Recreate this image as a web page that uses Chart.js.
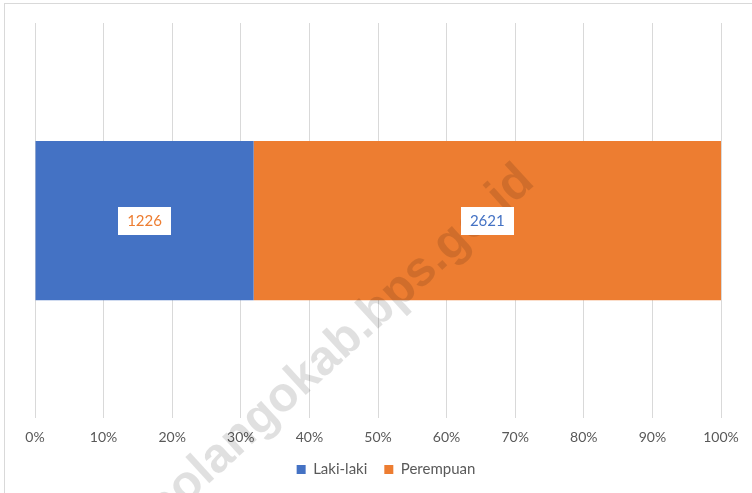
<!DOCTYPE html>
<html>
<head>
<meta charset="utf-8">
<script src="https://cdn.jsdelivr.net/npm/chart.js@4/dist/chart.umd.min.js"></script>
<style>
  html, body { margin: 0; padding: 0; background: #fff; overflow: hidden; }
  #wrap { position: relative; width: 752px; height: 493px; }
  #frame { position: absolute; left: 4px; top: 3px; width: 800px; height: 600px; border: 1px solid #d9d9d9; box-sizing: border-box; }
  canvas { position: absolute; left: 0; top: 0; }
</style>
</head>
<body>
<div id="wrap">
  <div id="frame"></div>
  <canvas id="c" width="752" height="493"></canvas>
</div>
<script>
const categories = [""];
const seriesNames = ["Laki-laki", "Perempuan"];
const lakiLaki = [1226];
const perempuan = [2621];
const tickValues = [0, 10, 20, 30, 40, 50, 60, 70, 80, 90, 100];
const watermark = "bonebolangokab.bps.go.id";

const BLUE = "#4472C4";
const ORANGE = "#ED7D31";
const FONT = "Lato, 'Open Sans', sans-serif";

const totals = lakiLaki.map((v, i) => v + perempuan[i]);
const pct = (arr) => arr.map((v, i) => v / totals[i] * 100);

const watermarkPlugin = {
  id: "watermark",
  afterDatasetsDraw(chart) {
    const ctx = chart.ctx;
    ctx.save();
    ctx.translate(536, 184);
    ctx.rotate(-42.5 * Math.PI / 180);
    ctx.font = "bold 49px 'Liberation Sans', Arial, sans-serif";
    ctx.fillStyle = "rgba(0,0,0,0.12)";
    ctx.textAlign = "right";
    ctx.textBaseline = "alphabetic";
    ctx.fillText(watermark, 0, 0);
    ctx.restore();
  }
};

const labelPlugin = {
  id: "boxLabels",
  afterDatasetsDraw(chart) {
    const ctx = chart.ctx;
    const raws = [lakiLaki, perempuan];
    const txtColors = [ORANGE, BLUE];
    chart.data.datasets.forEach((ds, di) => {
      const meta = chart.getDatasetMeta(di);
      meta.data.forEach((bar, i) => {
        const p = bar.getProps(["x", "y", "base"], true);
        const cx = (p.x + p.base) / 2;
        const cy = p.y;
        const text = String(raws[di][i]);
        ctx.save();
        ctx.font = "15px " + FONT;
        const w = ctx.measureText(text).width + 18;
        const h = 28;
        ctx.fillStyle = "#ffffff";
        ctx.fillRect(Math.round(cx - w / 2), Math.round(cy - h / 2), Math.round(w), h);
        ctx.fillStyle = txtColors[di];
        ctx.textAlign = "center";
        ctx.textBaseline = "middle";
        ctx.fillText(text, cx, cy + 1);
        ctx.restore();
      });
    });
  }
};

const legendShift = {
  id: "legendShift",
  afterLayout(chart) {
    const lg = chart.legend;
    if (!lg) return;
    lg.left += 8; lg.right += 8;
    lg.top -= 12; lg.bottom -= 12;
  }
};

new Chart(document.getElementById("c"), {
  type: "bar",
  data: {
    labels: categories,
    datasets: [
      { label: seriesNames[0], data: pct(lakiLaki), backgroundColor: BLUE, borderWidth: 0 },
      { label: seriesNames[1], data: pct(perempuan), backgroundColor: ORANGE, borderWidth: 0 }
    ]
  },
  options: {
    indexAxis: "y",
    responsive: false,
    animation: false,
    events: [],
    layout: { padding: { left: 35, right: 31, top: 23, bottom: -6 } },
    scales: {
      x: {
        stacked: true,
        min: 0,
        max: 100,
        afterBuildTicks(axis) { axis.ticks = tickValues.map(v => ({ value: v })); },
        grid: { color: "#d9d9d9", lineWidth: 1, drawTicks: false },
        border: { display: false },
        ticks: {
          color: "#595959",
          font: { family: FONT, size: 14 },
          padding: 11,
          maxRotation: 0,
          callback: (v) => v + "%"
        }
      },
      y: {
        stacked: true,
        display: false,
        grid: { display: false }
      }
    },
    datasets: { bar: { categoryPercentage: 1, barPercentage: 0.4026 } },
    plugins: {
      legend: {
        position: "bottom",
        labels: {
          boxWidth: 9,
          boxHeight: 9,
          padding: 17,
          color: "#595959",
          font: { family: FONT, size: 15 }
        }
      },
      tooltip: { enabled: false }
    }
  },
  plugins: [watermarkPlugin, labelPlugin, legendShift]
});
</script>
</body>
</html>
